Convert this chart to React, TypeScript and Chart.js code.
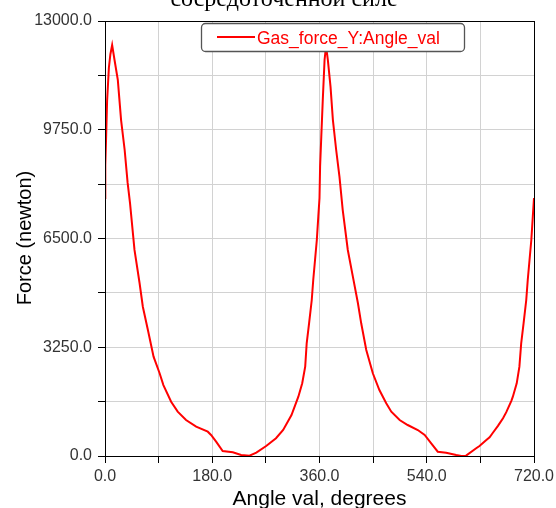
import React, { useEffect, useRef } from "react";
import { Chart, registerables } from "chart.js";

Chart.register(...registerables);

const chartTitle = "сосредоточенной силе";
const seriesName = "Gas_force_Y:Angle_val";
const xAxisTitle = "Angle val, degrees";
const yAxisTitle = "Force (newton)";

const angles = [
  0, 0.5, 2, 3.5, 6.5, 9, 12, 16, 21.5, 27, 33, 38, 42, 49.5, 58, 63.5, 72, 81.5, 91.5, 98,
  111, 122, 136, 153, 172.5, 178, 186.5, 197.5, 214.5, 228.5, 242.5, 254, 270.5, 287, 299,
  313, 324.5, 331, 336, 338.5, 342.5, 347, 349.5, 352.5, 355.5, 358, 360, 361, 363, 365.5,
  368.5, 371, 374, 378.5, 382.5, 388, 393.5, 399, 407.5, 416, 424.5, 430, 438.5, 449.5,
  460.5, 472, 480.5, 494.5, 508, 525, 536.5, 547.5, 558.5, 572.5, 589.5, 598, 606, 623,
  628.5, 640, 645.5, 651, 659.5, 668, 673.5, 682, 684.5, 691, 695.5, 698.5, 702.5, 707,
  709.5, 712.5, 715.5, 718, 720,
];

const forces = [
  7710, 8700, 9600, 10600, 11600, 12000, 12280, 11835, 11240, 10040, 9145, 8160, 7560, 6160,
  5170, 4460, 3765, 2970, 2480, 2120, 1620, 1325, 1076, 876, 726, 628, 427, 150, 110, 30,
  10, 100, 300, 530, 777, 1225, 1772, 2173, 2669, 3368, 3966, 4662, 5260, 5858, 6455, 7152,
  7710, 8650, 9540, 10640, 11835, 12250, 11835, 11040, 10040, 9145, 8350, 7350, 6157, 5359,
  4564, 3966, 3168, 2472, 1972, 1575, 1324, 1076, 926, 777, 628, 380, 128, 99, 30, 0, 10,
  230, 299, 478, 560, 696, 900, 1130, 1310, 1650, 1772, 2173, 2669, 3368, 3966, 4662, 5260,
  5858, 6455, 7152, 7710,
];

const xMin = 0;
const xMax = 720;
const xStep = 90;
const xLabelStep = 180;
const yMin = 0;
const yMax = 13000;
const yStep = 1625;
const yLabelStep = 3250;

const decorPlugin = {
  id: "decor",
  afterDraw(chart: any) {
    const ctx = chart.ctx as CanvasRenderingContext2D;
    const a = chart.chartArea;
    ctx.save();
    // box
    ctx.strokeStyle = "#000";
    ctx.lineWidth = 1;
    ctx.strokeRect(Math.round(a.left) + 0.5, Math.round(a.top) + 0.5, Math.round(a.right - a.left), Math.round(a.bottom - a.top));

    // legend
    ctx.beginPath();
    (ctx as any).roundRect(201.5, 23.5, 263, 28, 4);
    ctx.fillStyle = "#fff";
    ctx.fill();
    ctx.strokeStyle = "#555";
    ctx.lineWidth = 1.3;
    ctx.stroke();
    ctx.beginPath();
    ctx.moveTo(217, 37);
    ctx.lineTo(255, 37);
    ctx.strokeStyle = "#ff0000";
    ctx.lineWidth = 2;
    ctx.stroke();
    ctx.fillStyle = "#ff0000";
    ctx.font = '17.5px "Liberation Sans"';
    ctx.textAlign = "left";
    ctx.textBaseline = "alphabetic";
    ctx.fillText(seriesName, 257, 44);

    // title
    ctx.fillStyle = "#000";
    ctx.font = '24px "Liberation Serif"';
    ctx.textAlign = "center";
    ctx.fillText(chartTitle, 284, 6);

    // axis titles
    ctx.font = '21px "Liberation Sans"';
    ctx.fillText(xAxisTitle, (a.left + a.right) / 2, 505);
    ctx.font = '20px "Liberation Sans"';
    ctx.translate(25, 238);
    ctx.rotate(-Math.PI / 2);
    ctx.textBaseline = "middle";
    ctx.fillText(yAxisTitle, 0, 0);
    ctx.restore();
  },
};

export default function App() {
  const ref = useRef<HTMLCanvasElement>(null);
  useEffect(() => {
    if (!ref.current) return;
    const points = angles.map((x, i) => ({ x, y: forces[i] }));
    const tickFont = { family: "Liberation Sans", size: 16 };
    const chart = new Chart(ref.current, {
      type: "line",
      data: {
        datasets: [
          {
            label: seriesName,
            data: points,
            borderColor: "#ff0000",
            borderWidth: 2,
            pointRadius: 0,
            tension: 0,
            fill: false,
          },
        ],
      },
      options: {
        animation: false,
        responsive: false,
        devicePixelRatio: 1,
        layout: { padding: { left: 0, top: 21, right: 22, bottom: 0 } },
        plugins: { legend: { display: false }, title: { display: false }, tooltip: { enabled: false } },
        scales: {
          x: {
            type: "linear",
            min: xMin,
            max: xMax,
            afterFit: (s: any) => {
              s.height = 52;
              s.paddingLeft = 0;
              s.paddingRight = 0;
            },
            ticks: {
              stepSize: xStep,
              autoSkip: false,
              maxRotation: 0,
              padding: 4,
              color: "#333",
              font: tickFont,
              callback: (v: any) => (Number(v) % xLabelStep === 0 ? Number(v).toFixed(1) : ""),
            },
            grid: { color: "#d2d2d2", tickColor: "#000", tickLength: 7, lineWidth: 1 },
            border: { color: "#000", width: 1 },
          },
          y: {
            type: "linear",
            min: yMin,
            max: yMax,
            afterFit: (s: any) => {
              s.width = 105;
              s.paddingTop = 0;
              s.paddingBottom = 0;
            },
            ticks: {
              stepSize: yStep,
              autoSkip: false,
              padding: 6,
              color: "#333",
              font: tickFont,
              callback: (v: any) => (Number(v) % yLabelStep === 0 ? Number(v).toFixed(1) : ""),
            },
            grid: { color: "#d2d2d2", tickColor: "#000", tickLength: 7, lineWidth: 1 },
            border: { color: "#000", width: 1 },
          },
        },
      },
      plugins: [decorPlugin],
    });
    return () => chart.destroy();
  }, []);
  return (
    <div style={{ position: "absolute", left: 0, top: 0, width: 556, height: 508, background: "#fff" }}>
      <canvas ref={ref} width={556} height={508} style={{ display: "block" }} />
    </div>
  );
}
